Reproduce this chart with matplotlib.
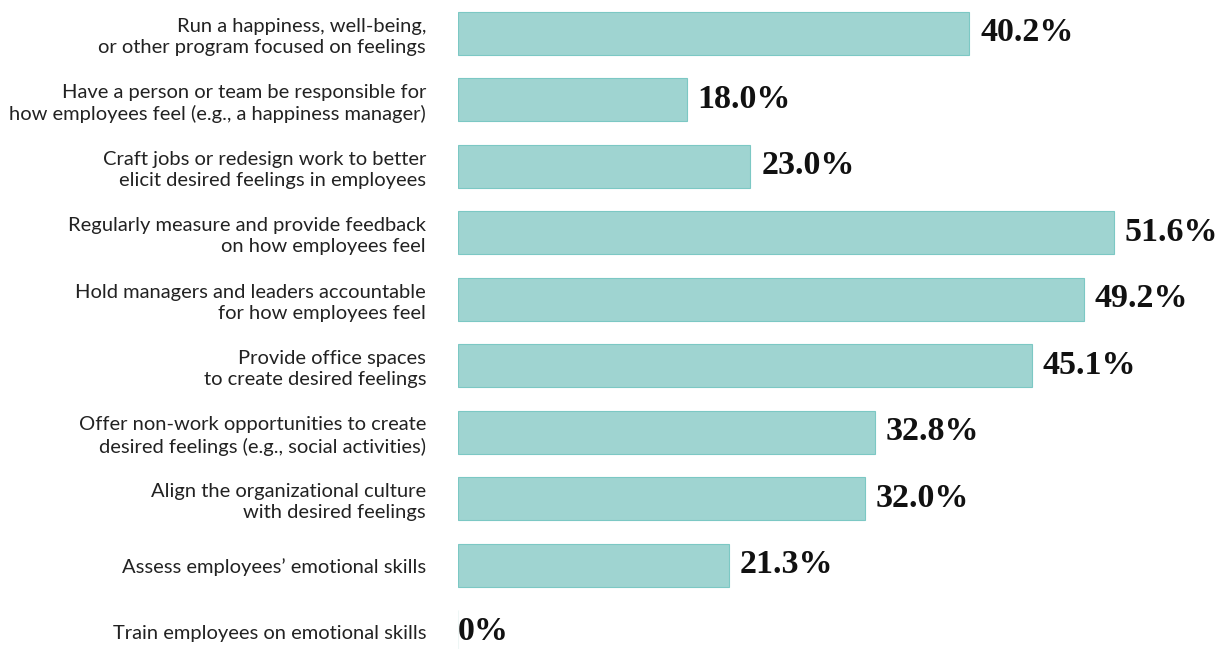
import matplotlib
matplotlib.use("Agg")
import matplotlib.pyplot as plt

categories = [
    "Run a happiness, well-being,\nor other program focused on feelings",
    "Have a person or team be responsible for\nhow employees feel (e.g., a happiness manager)",
    "Craft jobs or redesign work to better\nelicit desired feelings in employees",
    "Regularly measure and provide feedback\non how employees feel",
    "Hold managers and leaders accountable\nfor how employees feel",
    "Provide office spaces\nto create desired feelings",
    "Offer non-work opportunities to create\ndesired feelings (e.g., social activities)",
    "Align the organizational culture\nwith desired feelings",
    "Assess employees\u2019 emotional skills",
    "Train employees on emotional skills",
]
values = [40.2, 18.0, 23.0, 51.6, 49.2, 45.1, 32.8, 32.0, 21.3, 0]
value_labels = ["40.2%", "18.0%", "23.0%", "51.6%", "49.2%", "45.1%",
                "32.8%", "32.0%", "21.3%", "0%"]

W, H = 1223, 649
fig = plt.figure(figsize=(W / 100, H / 100), dpi=100)
ax = fig.add_axes([458 / W, 0, (1221 - 458) / W, 1])

y = list(range(len(categories)))
edges = ["#7cc8c4" if v > 0 else "#eef6f5" for v in values]
ax.barh(y, values, height=0.645, color="#9fd4d1", edgecolor=edges, linewidth=0.8)

for yi, v, lab in zip(y, values, value_labels):
    off = 0.85 if v > 0 else 0
    ax.text(v + off, yi - 0.01, lab, va="center", ha="left",
            fontsize=24.5, fontweight="bold", family="Liberation Serif", color="#111111")

ax.set_xlim(0, 60)
ax.set_ylim(9.26, -0.5)
ax.set_yticks(y)
ax.set_yticklabels(categories, fontsize=14.5, family="Lato", color="#222222",
                   linespacing=1.3)
ax.tick_params(axis="y", length=0, pad=23)
ax.set_xticks([])
for s in ax.spines.values():
    s.set_visible(False)

fig.savefig("out.png", dpi=100)
